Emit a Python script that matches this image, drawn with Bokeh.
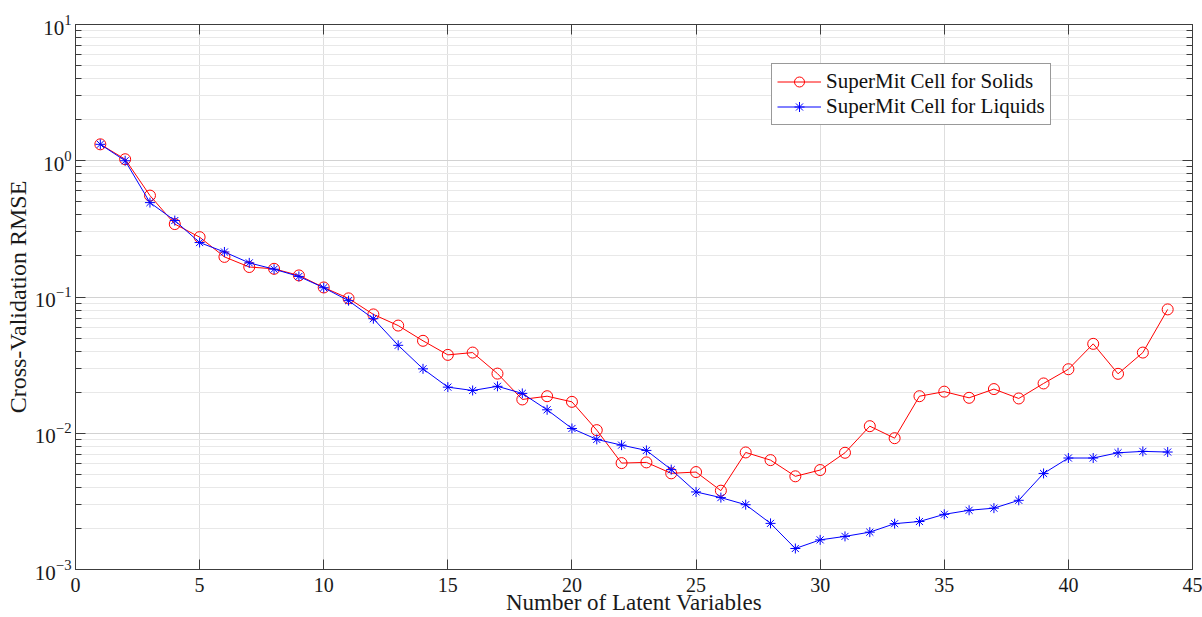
from bokeh.plotting import figure
from bokeh.models import (ColumnDataSource, LogAxis, LinearAxis, FixedTicker, Range1d)
from bokeh.embed import file_html
from bokeh.resources import INLINE

# Cross-validation RMSE per number of latent variables
latent_vars = list(range(1, 45))
rmse_solids = [1.32, 1.026, 0.555, 0.343, 0.275, 0.197, 0.166, 0.161, 0.144, 0.1175,
               0.0977, 0.0745, 0.0617, 0.0477, 0.0376, 0.0391, 0.0274, 0.0177, 0.0187, 0.0170,
               0.01054, 0.00604, 0.00611, 0.00508, 0.00519, 0.00379, 0.00723, 0.00635, 0.00483, 0.00537,
               0.00719, 0.01127, 0.0092, 0.0187, 0.0202, 0.0182, 0.0211, 0.0180, 0.0232, 0.0295,
               0.0453, 0.0273, 0.0391, 0.0811]
rmse_liquids = [1.32, 1.0, 0.493, 0.364, 0.251, 0.214, 0.178, 0.160, 0.1416, 0.117,
                0.094, 0.0693, 0.0442, 0.0297, 0.0218, 0.0206, 0.0221, 0.0196, 0.01486, 0.01084,
                0.00901, 0.00818, 0.00748, 0.00541, 0.00371, 0.00337, 0.00299, 0.00218, 0.001426, 0.00165,
                0.00175, 0.00188, 0.00217, 0.00225, 0.00254, 0.00272, 0.00282, 0.00322, 0.00507, 0.00658,
                0.00658, 0.00719, 0.00736, 0.00728]
series_names = ["SuperMit Cell for Solids", "SuperMit Cell for Liquids"]

x_ticks = [0, 5, 10, 15, 20, 25, 30, 35, 40, 45]
y_exponents = [-3, -2, -1, 0, 1]

FONT = "'Liberation Serif', serif"
AX = "#3c3c3c"
TXT = "#1a1a1a"

y_major = [10.0 ** e for e in y_exponents]
y_minor = [m * 10.0 ** e for e in y_exponents[:-1] for m in range(2, 10)]

p = figure(width=1202, height=617, output_backend="svg", toolbar_location=None,
           x_range=Range1d(0, 45), y_range=Range1d(1e-3, 10), y_axis_type="log",
           min_border_left=75, min_border_right=10, min_border_top=24, min_border_bottom=47,
           background_fill_color="white", border_fill_color="white")
p.outline_line_color = AX
p.outline_line_width = 1

xt = FixedTicker(ticks=x_ticks)
yt = FixedTicker(ticks=y_major, minor_ticks=y_minor)

bottom_ax = p.below[0]
left_ax = p.left[0]
bottom_ax.ticker = xt
left_ax.ticker = yt

# extra axes on top and right, ticks only
top_ax = LinearAxis(ticker=xt)
right_ax = LogAxis(ticker=yt)
p.add_layout(top_ax, "above")
p.add_layout(right_ax, "right")

for ax in [bottom_ax, left_ax, top_ax, right_ax]:
    ax.axis_line_color = AX
    ax.major_tick_line_color = AX
    ax.minor_tick_line_color = AX
    ax.major_tick_in = 10
    ax.major_tick_out = 0
    ax.minor_tick_in = 6
    ax.minor_tick_out = 0
    ax.major_label_text_font = FONT
    ax.major_label_text_color = TXT
    ax.axis_label_text_font = FONT
    ax.axis_label_text_font_style = "normal"
    ax.axis_label_text_color = TXT

for ax in [top_ax, right_ax]:
    ax.major_label_text_font_size = "1px"
    ax.major_label_text_color = None
    ax.major_label_standoff = 0
for ax in [top_ax, bottom_ax]:
    ax.minor_tick_line_color = None

bottom_ax.major_label_text_font_size = "20px"
bottom_ax.major_label_standoff = 8
bottom_ax.axis_label = "Number of Latent Variables"
bottom_ax.axis_label_text_font_size = "23px"
bottom_ax.axis_label_standoff = -5

left_ax.major_label_text_font_size = "21px"
left_ax.major_label_standoff = 4
left_ax.axis_label = "Cross-Validation RMSE"
left_ax.axis_label_text_font_size = "24px"
left_ax.axis_label_standoff = 1

p.xgrid.grid_line_color = "#dedede"
p.ygrid.grid_line_color = "#d2d2d2"
p.ygrid.minor_grid_line_color = "#e8e8e8"

src = ColumnDataSource(dict(x=latent_vars, solids=rmse_solids, liquids=rmse_liquids))
p.line("x", "solids", source=src, line_color="red", line_width=1, legend_label=series_names[0])
p.scatter("x", "solids", source=src, marker="circle", size=11, fill_color=None,
          line_color="red", line_width=1, legend_label=series_names[0])
p.line("x", "liquids", source=src, line_color="blue", line_width=1, legend_label=series_names[1])
p.scatter("x", "liquids", source=src, marker="asterisk", size=10,
          line_color="blue", line_width=1, legend_label=series_names[1])

lg = p.legend[0]
lg.location = (696, 444)
lg.label_text_font = FONT
lg.label_text_font_size = "21px"
lg.label_text_color = "#111111"
lg.glyph_width = 44
lg.glyph_height = 25
lg.label_height = 25
lg.label_standoff = 5
lg.spacing = 0
lg.padding = 5
lg.margin = 0
lg.border_line_color = "#333333"
lg.border_line_width = 1
lg.background_fill_color = "white"
lg.background_fill_alpha = 1

open("out.html", "w").write(file_html(p, INLINE))
